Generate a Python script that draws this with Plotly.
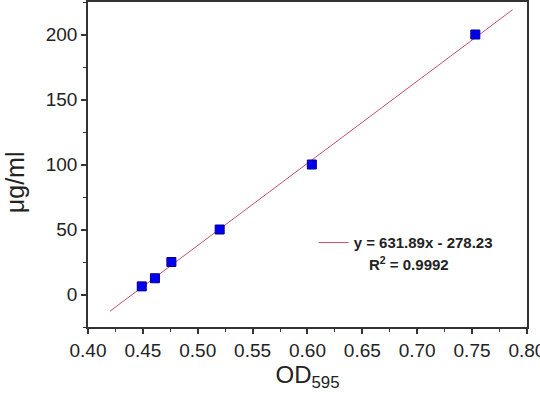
import plotly.graph_objects as go

# Data
od595 = [0.449, 0.461, 0.476, 0.520, 0.604, 0.753]
conc = [6.25, 12.5, 25, 50, 100, 200]
slope = 631.89
intercept = -278.23
fit_x = [0.42, 0.787]
fit_y = [slope * v + intercept for v in fit_x]
x_ticks = [0.40, 0.45, 0.50, 0.55, 0.60, 0.65, 0.70, 0.75, 0.80]
y_ticks = [0, 50, 100, 150, 200]

FONT = "Liberation Sans, Arial, sans-serif"

fig = go.Figure()
fig.add_trace(go.Scatter(
    x=fit_x, y=fit_y, mode="lines",
    line=dict(color="#c8506a", width=1),
    name="<b>y = 631.89x - 278.23</b>", showlegend=True,
))
fig.add_trace(go.Scatter(
    x=od595, y=conc, mode="markers",
    marker=dict(symbol="square", size=9, color="#0000ee",
                line=dict(color="#00008b", width=1)),
    showlegend=False,
))

fig.add_annotation(
    x=0.636, y=0.194, xref="paper", yref="paper",
    text="<b>R<sup>2</sup> = 0.9992</b>", showarrow=False,
    font=dict(family=FONT, size=15, color="#222222"),
    xanchor="left", yanchor="middle",
)
fig.add_annotation(
    x=-0.166, y=0.446, xref="paper", yref="paper",
    text="μg/ml", showarrow=False, textangle=-90,
    font=dict(family=FONT, size=25, color="#222222"),
    xanchor="center", yanchor="middle",
)

fig.update_layout(
    width=540, height=397,
    margin=dict(l=88, r=13, t=2, b=70, autoexpand=False),
    paper_bgcolor="white", plot_bgcolor="white",
    font=dict(family=FONT, color="#222222"),
    legend=dict(x=0.514, y=0.259, xanchor="left", yanchor="middle",
                bgcolor="rgba(0,0,0,0)",
                font=dict(family=FONT, size=15, color="#222222")),
    xaxis=dict(
        range=[0.40, 0.8001], tickvals=x_ticks, tickformat=".2f",
        ticklabeloverflow="allow", automargin=False,
        showline=True, linecolor="#333333", linewidth=1.5, mirror=True,
        ticks="outside", ticklen=5, tickwidth=1.5, tickcolor="#333333",
        minor=dict(ticks="outside", ticklen=3, tickwidth=1, tickcolor="#333333", dtick=0.025),
        showgrid=False, zeroline=False,
        tickfont=dict(family=FONT, size=19, color="#222222"),
        title=dict(text="OD<sub>595</sub>", font=dict(family=FONT, size=24, color="#222222"),
                   standoff=2),
    ),
    yaxis=dict(
        range=[-25, 225], tickvals=y_ticks, automargin=False,
        showline=True, linecolor="#333333", linewidth=1.5, mirror=True,
        ticks="outside", ticklen=5, tickwidth=1.5, tickcolor="#333333",
        minor=dict(ticks="outside", ticklen=3, tickwidth=1, tickcolor="#333333", dtick=25),
        showgrid=False, zeroline=False,
        tickfont=dict(family=FONT, size=19, color="#222222"),
    ),
)

fig.write_html("out.html")
